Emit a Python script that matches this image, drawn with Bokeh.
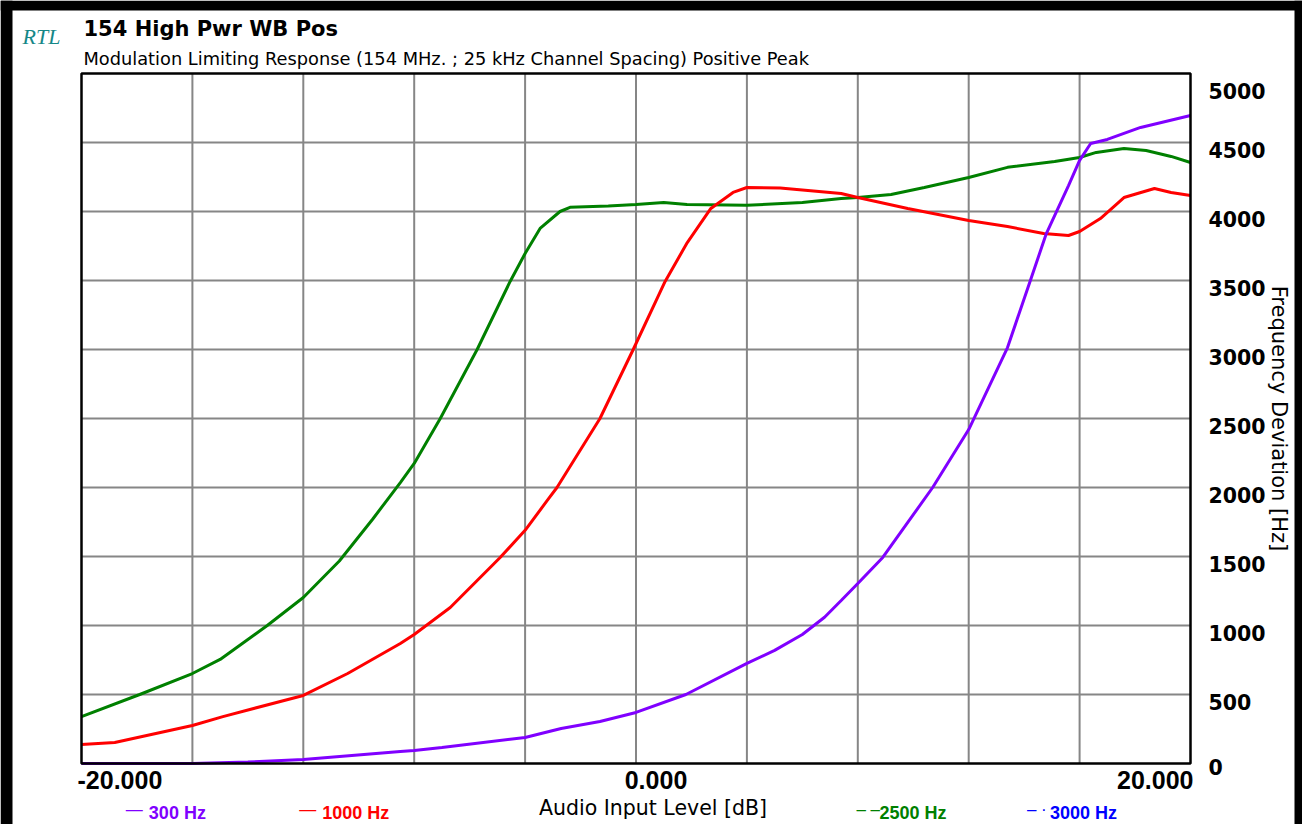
import math
from bokeh.plotting import figure
from bokeh.models import Range1d, Label
from bokeh.embed import file_html
from bokeh.resources import INLINE

# ---------------- data ----------------
title_text = "154 High Pwr WB Pos"
subtitle_text = "Modulation Limiting Response (154 MHz. ; 25 kHz Channel Spacing) Positive Peak"
x_axis_title = "Audio Input Level [dB]"
y_axis_title = "Frequency Deviation [Hz]"

x_ticks = [-20, -16, -12, -8, -4, 0, 4, 8, 12, 16, 20]
x_tick_labels = {-20: "-20.000", 0: "0.000", 20: "20.000"}
y_ticks = [0, 500, 1000, 1500, 2000, 2500, 3000, 3500, 4000, 4500, 5000]

x_300 = [-20, -16, -14, -12, -8.5, -8, -7, -4, -2.7, -1.3, 0, 1.8, 4, 5, 6, 6.8, 7.4, 8, 8.9,
         10.7, 12, 13.4, 14.2, 14.8, 15.6, 16, 16.4, 17, 18.2, 20]
y_300 = [0, 0, 10, 29, 87, 94, 116, 188, 254, 304, 370, 500, 725, 820, 935, 1060, 1181, 1304,
         1493, 2000, 2420, 3014, 3486, 3840, 4188, 4370, 4493, 4522, 4609, 4696]

x_1000 = [-20, -18.8, -16, -14.9, -12, -10.4, -8.5, -8, -6.7, -4.9, -4, -3.2, -2.85, -1.3, -0.1,
          1.05, 1.85, 2.7, 3.5, 4, 5.2, 7.4, 8, 9.8, 12, 13.4, 14.7, 15.6, 16, 16.75, 17.6,
          18.7, 19.3, 20]
y_1000 = [138, 152, 275, 340, 493, 652, 870, 935, 1130, 1493, 1690, 1906, 2000, 2500, 3000,
          3493, 3775, 4022, 4138, 4174, 4170, 4130, 4101, 4022, 3935, 3891, 3840, 3826, 3855,
          3949, 4101, 4167, 4138, 4116]

x_2500 = [-20, -17.9, -16, -15, -13.3, -12, -10.7, -9.5, -8.5, -8, -7.06, -5.73, -4.54, -4,
          -3.46, -2.74, -2.38, -1, 0, 1, 1.84, 4, 6, 7.4, 8, 9.2, 10.4, 12, 13.4, 15.1, 16,
          16.6, 17.6, 18.4, 19.3, 20]
y_2500 = [340, 500, 652, 754, 1000, 1203, 1467, 1770, 2036, 2174, 2500, 3000, 3493, 3696,
          3877, 4000, 4030, 4040, 4050, 4065, 4050, 4045, 4065, 4094, 4101, 4123, 4174, 4246,
          4320, 4362, 4391, 4428, 4457, 4442, 4399, 4355]

legend_labels = ["300 Hz", "1000 Hz", "2500 Hz", "3000 Hz"]
legend_marks = ["\u2014", "\u2014", "\u2013 \u2013", "\u2013 \u00b7"]
legend_colors = ["#8000ff", "#ff0000", "#008000", "#0000ff"]

# ---------------- layout (pixels) ----------------
W, H = 1302, 824
PL, PR, PT, PB = 81, 1190, 73, 763          # plot area inside the canvas
X0, X1 = x_ticks[0], x_ticks[-1]
Y0, Y1 = y_ticks[0], y_ticks[-1]
sx = (PR - PL) / (X1 - X0)
sy = (PB - PT) / (Y1 - Y0)
xr = Range1d(X0 - PL / sx, X1 + (W - PR) / sx)
yr = Range1d(Y0 - (H - PB) / sy, Y1 + PT / sy)

p = figure(width=W, height=H, output_backend="svg", toolbar_location=None,
           x_range=xr, y_range=yr, x_axis_location=None, y_axis_location=None,
           min_border=0, min_border_left=0, min_border_right=0, min_border_top=0,
           min_border_bottom=0)
p.outline_line_color = None
p.background_fill_color = "white"
p.border_fill_color = "white"
p.grid.visible = False

# outer black window border (left, top, right)
p.quad(left=[xr.start, xr.start, xr.end - 8 / sx],
       right=[xr.start + 12 / sx, xr.end, xr.end],
       bottom=[yr.start, yr.end - 10 / sy, yr.start],
       top=[yr.end, yr.end, yr.end], fill_color="black", line_color=None)

# grid
grid_col = "#868686"
p.segment(x0=x_ticks[1:-1], y0=[Y0] * (len(x_ticks) - 2), x1=x_ticks[1:-1],
          y1=[Y1] * (len(x_ticks) - 2), line_color=grid_col, line_width=2)
p.segment(x0=[X0] * (len(y_ticks) - 2), y0=y_ticks[1:-1], x1=[X1] * (len(y_ticks) - 2),
          y1=y_ticks[1:-1], line_color=grid_col, line_width=2)

# curves
p.line(x_2500, y_2500, line_color=legend_colors[2], line_width=3)
p.line(x_1000, y_1000, line_color=legend_colors[1], line_width=3)
p.line(x_300, y_300, line_color=legend_colors[0], line_width=3)

# plot frame
p.quad(left=[X0], right=[X1], bottom=[Y0], top=[Y1], fill_color=None,
       line_color="black", line_width=2.5)


def lab(text, x, y, dx, dy, **kw):
    p.add_layout(Label(x=x, y=y, x_offset=dx, y_offset=dy, text=text, **kw))


# titles
lab("RTL", X0, Y1, -59, 37, text_font="Liberation Serif", text_font_style="italic",
    text_font_size="22px", text_color="#168787", text_baseline="alphabetic")
lab(title_text, X0, Y1, 2, 45, text_font="DejaVu Sans", text_font_style="bold",
    text_font_size="21px", text_color="black", text_baseline="alphabetic")
lab(subtitle_text, X0, Y1, 2, 15, text_font="DejaVu Sans", text_font_size="17.8px",
    text_color="black", text_baseline="alphabetic")

# x tick labels
x_align = {-20: ("left", -4), 0: ("center", 20), 20: ("right", 3)}
for xv, txt in x_tick_labels.items():
    al, dx = x_align[xv]
    lab(txt, xv, Y0, dx, -16, text_font="Liberation Sans", text_font_style="bold",
        text_font_size="25px", text_align=al, text_baseline="middle", text_color="black")

# y tick labels
for yv in y_ticks:
    dy = -7
    if yv == Y1:
        dy = -17
    elif yv == Y0:
        dy = -3
    lab(str(yv), X1, yv, 18, dy, text_font="DejaVu Sans", text_font_style="bold",
        text_font_size="20.5px", text_align="left", text_baseline="middle", text_color="black")

# axis titles
lab(x_axis_title, 0, Y0, 17, -44, text_font="DejaVu Sans", text_font_size="20.5px",
    text_align="center", text_baseline="middle", text_color="black")
lab(y_axis_title, X1, 2500, 88, 0, text_font="DejaVu Sans", text_font_size="21px",
    text_align="center", text_baseline="middle", text_color="black", angle=-math.pi / 2)

# legend (below the plot)
leg_x = [-18.4, -12.15, 7.95, 14.1]
for i, (txt, mk, col) in enumerate(zip(legend_labels, legend_marks, legend_colors)):
    lab(mk, leg_x[i], Y0, 0, -46, text_font="Liberation Sans", text_font_size="17px",
        text_align="left", text_baseline="middle", text_color=col)
    lab(txt, leg_x[i], Y0, 23, -49, text_font="Liberation Sans", text_font_style="bold",
        text_font_size="18px", text_align="left", text_baseline="middle", text_color=col)

open("out.html", "w").write(file_html(p, INLINE))
